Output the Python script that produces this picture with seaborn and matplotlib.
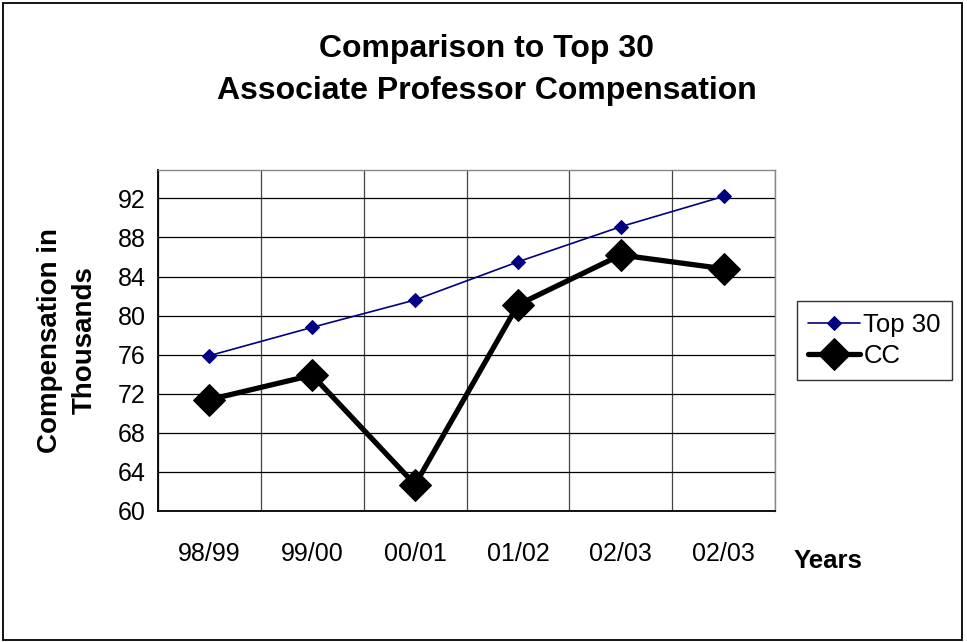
import pandas as pd
import matplotlib.pyplot as plt
import matplotlib.patches as mpatches
import seaborn as sns

# Values (thousands)
years = ["98/99", "99/00", "00/01", "01/02", "02/03", "02/03"]
top30 = [75.9, 78.8, 81.6, 85.5, 89.1, 92.2]
cc = [71.4, 73.9, 62.7, 81.1, 86.2, 84.8]
y_ticks = [60, 64, 68, 72, 76, 80, 84, 88, 92]

df = pd.DataFrame({"pos": range(len(years)), "Year": years, "Top 30": top30, "CC": cc})

sns.set_style("white")
plt.rcParams["font.family"] = ["Liberation Sans", "DejaVu Sans"]
plt.rcParams["text.color"] = "black"
plt.rcParams["axes.labelcolor"] = "black"
plt.rcParams["xtick.color"] = "black"
plt.rcParams["ytick.color"] = "black"

fig = plt.figure(figsize=(9.67, 6.42), dpi=100)
ax = fig.add_axes([158 / 967, 1 - 511 / 642, (775 - 158) / 967, (511 - 170) / 642])

sns.lineplot(data=df, x="pos", y="Top 30", ax=ax, color="#000080", lw=1.2,
             marker="D", markersize=7, markeredgecolor="#000080", label="Top 30")
sns.lineplot(data=df, x="pos", y="CC", ax=ax, color="black", lw=3.8,
             marker="D", markersize=16, markeredgecolor="black", label="CC")

# axes and grid
ax.set_xlim(-0.5, len(years) - 0.5)
ax.set_ylim(60, 94.9)
ax.set_yticks(y_ticks)
ax.set_xticks(range(len(years)))
ax.set_xticklabels(years)
ax.set_xticks([i + 0.5 for i in range(-1, len(years))], minor=True)
ax.grid(True, which="major", axis="y", color="black", lw=0.9)
ax.grid(True, which="minor", axis="x", color="#444444", lw=0.9)
ax.set_axisbelow(True)
ax.tick_params(axis="x", which="major", length=0, pad=22, labelsize=18)
ax.tick_params(axis="x", which="minor", length=7, width=1, color="black", direction="out")
ax.tick_params(axis="y", length=5, width=1, color="black", direction="out", pad=4, labelsize=18)
for side in ["left", "bottom"]:
    ax.spines[side].set_color("black")
    ax.spines[side].set_linewidth(1.3)
for side in ["top", "right"]:
    ax.spines[side].set_color("#888888")
    ax.spines[side].set_linewidth(1)

ax.set_xlabel("")
ax.set_ylabel("Compensation in\nThousands", fontsize=20, fontweight="bold", labelpad=14,
              linespacing=1.45)
fig.text(828 / 967, 1 - 561 / 642, "Years", fontsize=18.5, fontweight="bold",
         ha="center", va="center")

fig.text(0.503, 1 - 70 / 642, "Comparison to Top 30\nAssociate Professor Compensation",
         fontsize=23, fontweight="bold", ha="center", va="center", linespacing=1.5)

leg = ax.legend(loc="center left", bbox_to_anchor=(1.035, 0.5), fontsize=18.5, frameon=True,
                fancybox=False, edgecolor="black", handlelength=2.0, handletextpad=0.15,
                borderpad=0.45, labelspacing=0.3, borderaxespad=0)
leg.get_frame().set_linewidth(1)

# outer border around the chart
fig.patches.append(mpatches.Rectangle((3 / 967, 2 / 642), 959 / 967, 637 / 642,
                                      transform=fig.transFigure, fill=False,
                                      edgecolor="black", lw=1.3))

fig.savefig("out.png", dpi=100)
